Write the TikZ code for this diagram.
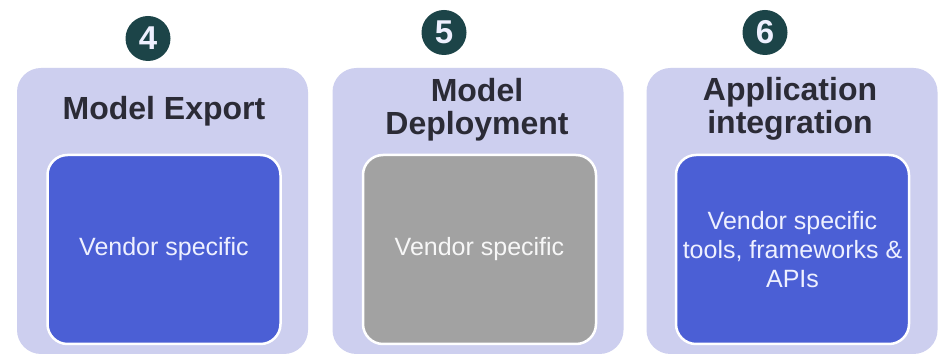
\documentclass[tikz,border=0pt]{standalone}
\usepackage{fontspec}
\setmainfont{Liberation Sans}
\definecolor{panelbg}{HTML}{CDCFEF}
\definecolor{vendorblue}{HTML}{4B5FD5}
\definecolor{vendorgray}{HTML}{A2A2A2}
\definecolor{badgefill}{HTML}{1C4448}
\definecolor{titleink}{HTML}{2B2B36}
\definecolor{boxink}{HTML}{EEF0FF}
\begin{document}
\begin{tikzpicture}[x=1pt,y=-1pt,
  panel/.style={fill=panelbg, draw=none, rounded corners=24pt,
    minimum width=291pt, minimum height=286pt, inner sep=0pt},
  inner/.style={draw=white, line width=2.5pt, rounded corners=20pt,
    minimum width=233pt, minimum height=189pt, inner sep=0pt,
    text=boxink, align=center, font=\fontsize{25}{29}\selectfont},
  title/.style={text=titleink, align=center, inner sep=0pt,
    font=\bfseries\fontsize{32}{33}\selectfont},
  badge/.style={circle, fill=badgefill, text=boxink, minimum size=45pt,
    inner sep=0pt, font=\bfseries\fontsize{33}{33}\selectfont}]
  \useasboundingbox (0,0) rectangle (943,355);
  \fill[white] (0,0) rectangle (943,355);

  % stage panels
  \node[panel] (p4) at (162.5,211) {};
  \node[panel] (p5) at (478,211) {};
  \node[panel] (p6) at (792,211) {};

  % numbered badges
  \node[badge] (b4) at (148,38.5) {4};
  \node[badge] (b5) at (444,32.5) {5};
  \node[badge] (b6) at (765,32.5) {6};

  % panel titles
  \node[title] (t4) at (164,111) {Model Export};
  \node[title] (t5) at (477,110) {Model\\Deployment};
  \node[title] (t6) at (790,109) {Application\\integration};

  % vendor boxes
  \node[inner, fill=vendorblue] (v4) at (164,249.5) {Vendor specific};
  \node[inner, fill=vendorgray, text=white!94!gray] (v5) at (479.5,249.5) {Vendor specific};
  \node[inner, fill=vendorblue] (v6) at (792.5,249.5) {Vendor specific\\tools, frameworks \&\\APIs};
\end{tikzpicture}
\end{document}
